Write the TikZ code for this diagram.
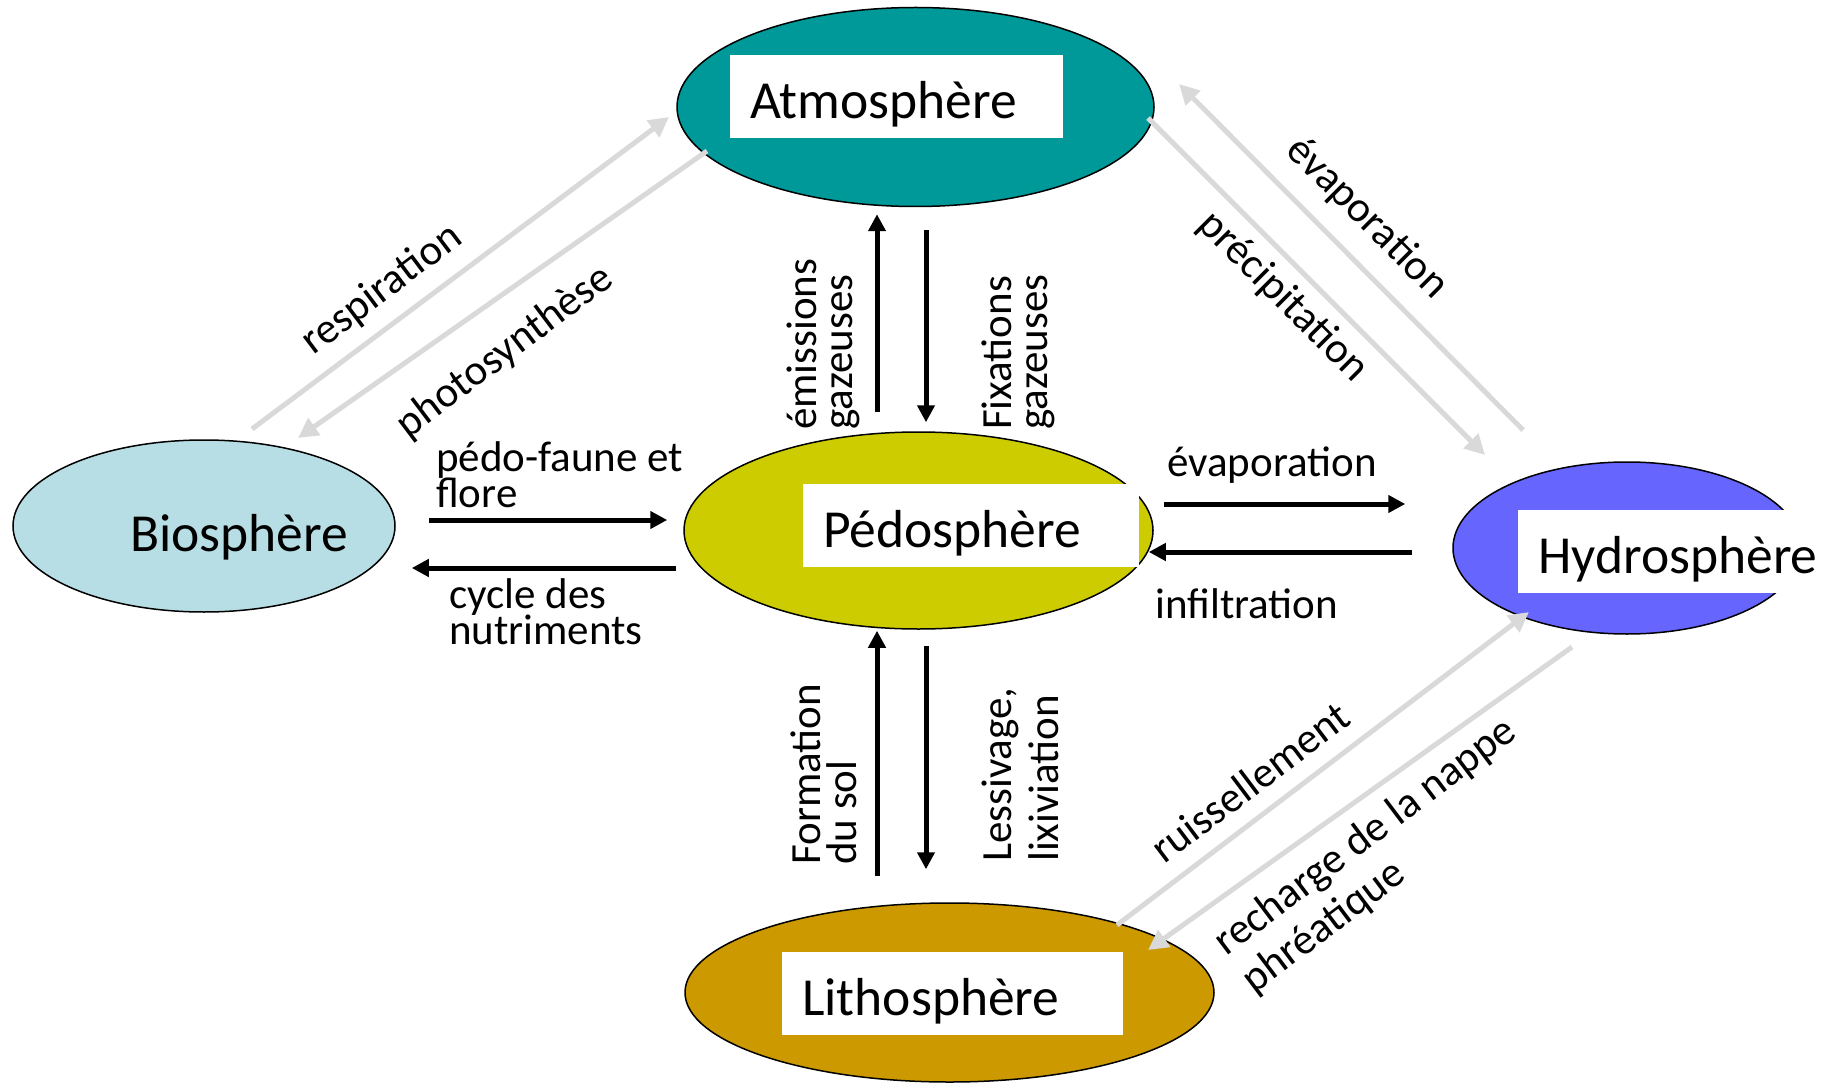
\documentclass[tikz,border=0pt]{standalone}
\usepackage{fontspec}
\setmainfont{Carlito}
\usetikzlibrary{arrows.meta}
\usetikzlibrary{shapes.geometric}
\usetikzlibrary{calc}
\definecolor{atmocol}{RGB}{0,153,153}
\definecolor{pedocol}{RGB}{204,204,0}
\definecolor{biocol}{RGB}{183,222,228}
\definecolor{hydrocol}{RGB}{102,102,255}
\definecolor{lithocol}{RGB}{204,153,0}
\definecolor{fluxgray}{RGB}{217,217,217}
\newcommand{\lblfont}{\fontsize{43}{36}\selectfont\lineskiplimit=-30pt\relax}
\newcommand{\widelblfont}{\fontsize{43}{47}\selectfont\lineskiplimit=-30pt\relax}

\begin{document}
\begin{tikzpicture}[
    x=1pt, y=-1pt,
    sphere/.style={ellipse, draw=black, line width=1.5pt, inner sep=0pt, fill=#1},
    namebox/.style={anchor=north west, fill=white, inner xsep=20pt, inner ysep=0pt,
               text height=63pt, text depth=20pt, align=left,
               font=\fontsize{53.5}{60}\selectfont},
    lbl/.style={inner sep=0pt, align=left, font=\lblfont},
    arrow/.style={-{Triangle[length=17pt,width=17pt]}, line width=5pt, draw=black},
    grayarrow/.style={-{Triangle[length=20pt,width=20pt]}, line width=5pt, draw=fluxgray}
]
\useasboundingbox (0,0) rectangle (1839,1083);

% Spheres
\node[sphere=atmocol, minimum width=477pt, minimum height=199pt] (atmo) at (915.5,107) {};
\node[sphere=pedocol, minimum width=469pt, minimum height=197pt] (pedo) at (918.5,530.5) {};
\node[sphere=biocol, minimum width=382pt, minimum height=172pt] (bio) at (204,526) {};
\node[sphere=hydrocol, minimum width=348pt, minimum height=172pt] (hydro) at (1627,548) {};
\node[sphere=lithocol, minimum width=529pt, minimum height=179pt] (litho) at (949.5,992.5) {};

% Sphere names
\node[namebox, text width=293pt] (atmoT) at (730,55) {Atmosphère};
\node[namebox, text width=296pt] (pedoT) at (803,484) {Pédosphère};
\node[namebox, text width=259pt] (hydroT) at (1518,510) {Hydrosphère};
\node[namebox, text width=301pt] (lithoT) at (782,952) {Lithosphère};
\node[anchor=base west, inner sep=0pt, font=\fontsize{53.5}{60}\selectfont] (bioT) at (130,551) {Biosphère};

% Soil exchanges
\draw[arrow] ($(pedo.north)+(-41.5,-19)$) -- ($(atmo.south)+(-38.5,7)$);
\draw[arrow] ($(atmo.south)+(10.5,23)$) -- ($(pedo.north)+(7.5,-9)$);
\draw[arrow] ($(litho.north)+(-72.5,-26)$) -- ($(pedo.south)+(-41.5,1)$);
\draw[arrow] ($(pedo.south)+(7.5,16)$) -- ($(litho.north)+(-23.5,-33)$);
\draw[arrow] ($(bio.east)+(33,-6)$) -- ($(pedo.west)+(-16,-10.5)$);
\draw[arrow] ($(pedo.west)+(-7,37.5)$) -- ($(bio.east)+(16,42)$);
\draw[arrow] ($(pedo.east)+(10,-26.5)$) -- ($(hydro.west)+(-47,-44)$);
\draw[arrow] ($(hydro.west)+(-40,4)$) -- ($(pedo.east)+(-5,21.5)$);

% Other exchanges
\draw[grayarrow] ($(bio)+(48,-97)$) -- ($(atmo)+(-246.5,10)$);
\draw[grayarrow] ($(atmo)+(-208.5,44)$) -- ($(bio)+(94,-88)$);
\draw[grayarrow] ($(hydro)+(-104,-118)$) -- ($(atmo)+(263.5,-23)$);
\draw[grayarrow] ($(atmo)+(232.5,11)$) -- ($(hydro)+(-142,-93)$);
\draw[grayarrow] ($(litho)+(167.5,-67.5)$) -- ($(hydro)+(-98,64)$);
\draw[grayarrow] ($(hydro)+(-55,99)$) -- ($(litho)+(198.5,-42.5)$);

% Labels
\node[lbl, anchor=north west] (faune) at (436,441) {pédo-faune et\\flore};
\node[lbl, anchor=north west] (cycle) at (449,578) {cycle des\\nutriments};
\node[lbl, anchor=base west] (evapmid) at (1167,476) {évaporation};
\node[lbl, anchor=base west] (infil) at (1155,618) {infiltration};
\node[lbl, rotate=90, anchor=north west] (emis) at (787,430) {émissions\\gazeuses};
\node[lbl, rotate=90, anchor=north west] (fixa) at (982,430) {Fixations\\gazeuses};
\node[lbl, rotate=90, anchor=north west] (forma) at (791,865) {Formation\\du sol};
\node[lbl, rotate=90, anchor=north west, font=\widelblfont] (lessi) at (982,862) {Lessivage,\\lixiviation};
\node[lbl, rotate=37] (resp) at (382,290) {respiration};
\node[lbl, rotate=37] (photo) at (505,352) {photosynthèse};
\node[lbl, rotate=-45] (evaptop) at (1367,218) {évaporation};
\node[lbl, rotate=-45] (preci) at (1283,297) {précipitation};
\node[lbl, rotate=37] (ruiss) at (1250,782) {ruissellement};
\node[lbl, rotate=37, font=\widelblfont] (recha) at (1380,856) {recharge de la nappe\\phréatique};

\end{tikzpicture}
\end{document}
